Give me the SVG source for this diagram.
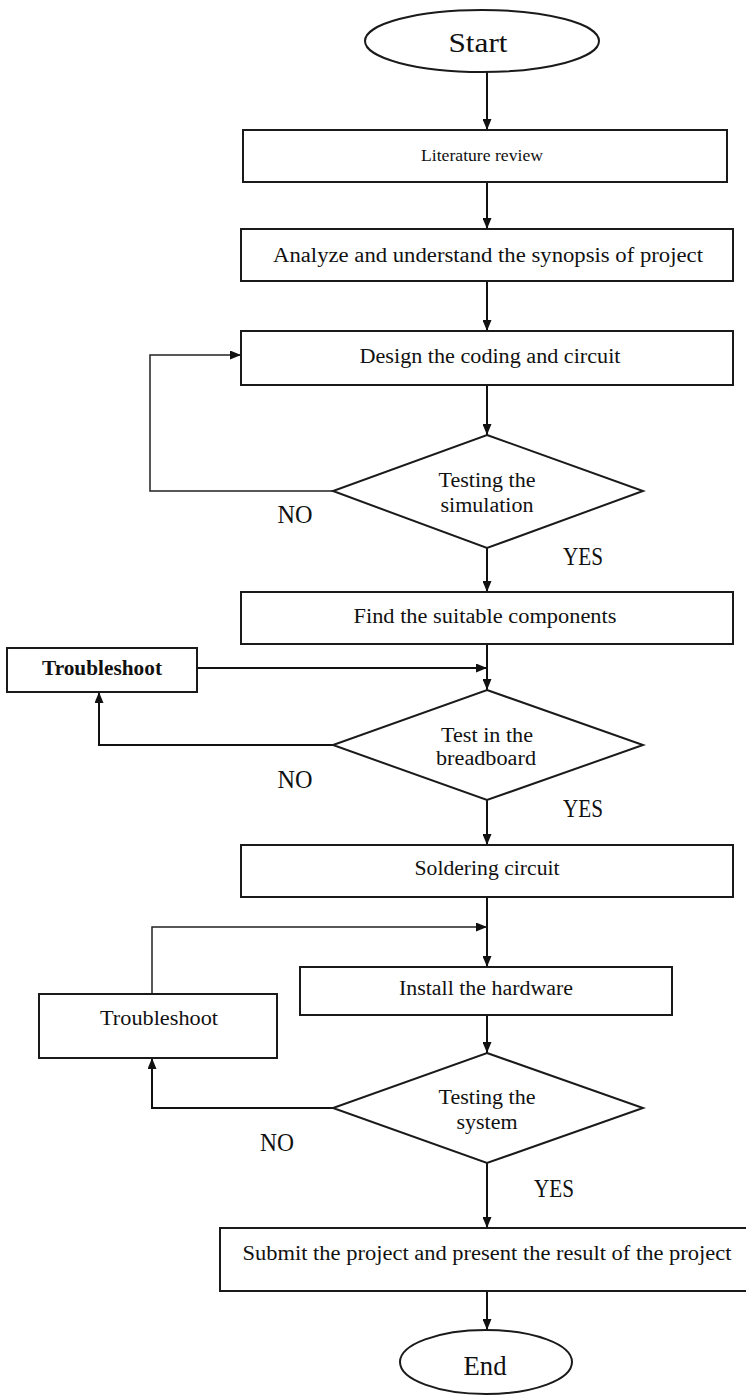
<svg xmlns="http://www.w3.org/2000/svg" width="746" height="1396" viewBox="0 0 746 1396">
<defs>
<style>
.box{fill:#fff;stroke:#1a1a1a;stroke-width:2}
.t{font-family:"Liberation Serif","Times New Roman",serif;fill:#111;text-anchor:middle}
.s{font-size:20px}
.lab{font-size:25px}
.term{font-size:28px}
.c{fill:none;stroke:#111;stroke-width:2}
.c2{fill:none;stroke:#222;stroke-width:1.5}
</style>
<marker id="arr" viewBox="0 0 11 9" refX="11" refY="4.5" markerWidth="11" markerHeight="9" markerUnits="userSpaceOnUse" orient="auto">
<path d="M0,0 L11,4.5 L0,9 z" fill="#111"/>
</marker>
</defs>
<rect width="746" height="1396" fill="#fff"/>

<g id="connectors">
<path class="c" d="M487,72 V130" marker-end="url(#arr)"/>
<path class="c" d="M487,182 V229" marker-end="url(#arr)"/>
<path class="c" d="M487,281 V331" marker-end="url(#arr)"/>
<path class="c" d="M487,385 V435" marker-end="url(#arr)"/>
<path class="c2" d="M333,491 H150 V355 H241" marker-end="url(#arr)"/>
<path class="c" d="M487,548 V592" marker-end="url(#arr)"/>
<path class="c" d="M487,644 V690" marker-end="url(#arr)"/>
<path class="c" d="M197,668 H487" marker-end="url(#arr)"/>
<path class="c" d="M333,745 H99 V692" marker-end="url(#arr)"/>
<path class="c" d="M487,800 V845" marker-end="url(#arr)"/>
<path class="c" d="M487,897 V967" marker-end="url(#arr)"/>
<path class="c2" d="M152,994 V927 H487" marker-end="url(#arr)"/>
<path class="c" d="M487,1015 V1053" marker-end="url(#arr)"/>
<path class="c" d="M333,1108 H152 V1058" marker-end="url(#arr)"/>
<path class="c" d="M487,1163 V1228" marker-end="url(#arr)"/>
<path class="c" d="M487,1291 V1330" marker-end="url(#arr)"/>
</g>

<g id="start">
<ellipse class="box" cx="482" cy="41" rx="117" ry="31"/>
<text class="t term" x="478" y="52" textLength="59" lengthAdjust="spacingAndGlyphs">Start</text>
</g>
<g id="literature">
<rect class="box" x="243" y="130" width="484" height="52"/>
<text class="t" font-size="17" x="482" y="161" textLength="122" lengthAdjust="spacingAndGlyphs">Literature review</text>
</g>
<g id="analyze">
<rect class="box" x="241" y="229" width="492" height="52"/>
<text class="t s" x="488" y="262" textLength="430" lengthAdjust="spacingAndGlyphs">Analyze and understand the synopsis of project</text>
</g>
<g id="design">
<rect class="box" x="241" y="331" width="492" height="54"/>
<text class="t s" x="490" y="363" textLength="261" lengthAdjust="spacingAndGlyphs">Design the coding and circuit</text>
</g>
<g id="test-sim">
<polygon class="box" points="487,435 643,491 487,548 333,491"/>
<text class="t s" x="487" y="487" textLength="97" lengthAdjust="spacingAndGlyphs">Testing the</text>
<text class="t s" x="487" y="512" textLength="93" lengthAdjust="spacingAndGlyphs">simulation</text>
</g>
<g id="find">
<rect class="box" x="241" y="592" width="492" height="52"/>
<text class="t s" x="485" y="623" textLength="263" lengthAdjust="spacingAndGlyphs">Find the suitable components</text>
</g>
<g id="troubleshoot1">
<rect class="box" x="7" y="648" width="190" height="44"/>
<text class="t s" x="102" y="675" font-weight="bold" textLength="120" lengthAdjust="spacingAndGlyphs">Troubleshoot</text>
</g>
<g id="test-bb">
<polygon class="box" points="487,690 643,745 487,800 333,745"/>
<text class="t s" x="487" y="742" textLength="92" lengthAdjust="spacingAndGlyphs">Test in the</text>
<text class="t s" x="486" y="765" textLength="100" lengthAdjust="spacingAndGlyphs">breadboard</text>
</g>
<g id="soldering">
<rect class="box" x="241" y="845" width="492" height="52"/>
<text class="t s" x="487" y="875" textLength="145" lengthAdjust="spacingAndGlyphs">Soldering circuit</text>
</g>
<g id="install">
<rect class="box" x="300" y="967" width="372" height="48"/>
<text class="t s" x="486" y="995" textLength="174" lengthAdjust="spacingAndGlyphs">Install the hardware</text>
</g>
<g id="troubleshoot2">
<rect class="box" x="39" y="994" width="238" height="64"/>
<text class="t s" x="159" y="1025" textLength="118" lengthAdjust="spacingAndGlyphs">Troubleshoot</text>
</g>
<g id="test-sys">
<polygon class="box" points="487,1053 643,1108 487,1163 333,1108"/>
<text class="t s" x="487" y="1104" textLength="97" lengthAdjust="spacingAndGlyphs">Testing the</text>
<text class="t s" x="487" y="1129" textLength="61" lengthAdjust="spacingAndGlyphs">system</text>
</g>
<g id="submit">
<rect class="box" x="220" y="1228" width="530" height="63"/>
<text class="t s" x="487" y="1260" textLength="489" lengthAdjust="spacingAndGlyphs">Submit the project and present the result of the project</text>
</g>
<g id="end">
<ellipse class="box" cx="486" cy="1362" rx="86" ry="32"/>
<text class="t term" x="485" y="1375" textLength="43" lengthAdjust="spacingAndGlyphs">End</text>
</g>

<g id="labels">
<text class="t lab" x="295" y="523" textLength="35" lengthAdjust="spacingAndGlyphs">NO</text>
<text class="t lab" x="583" y="565" textLength="40" lengthAdjust="spacingAndGlyphs">YES</text>
<text class="t lab" x="295" y="788" textLength="35" lengthAdjust="spacingAndGlyphs">NO</text>
<text class="t lab" x="583" y="817" textLength="40" lengthAdjust="spacingAndGlyphs">YES</text>
<text class="t lab" x="277" y="1151" textLength="34" lengthAdjust="spacingAndGlyphs">NO</text>
<text class="t lab" x="554" y="1197" textLength="40" lengthAdjust="spacingAndGlyphs">YES</text>
</g>
</svg>
